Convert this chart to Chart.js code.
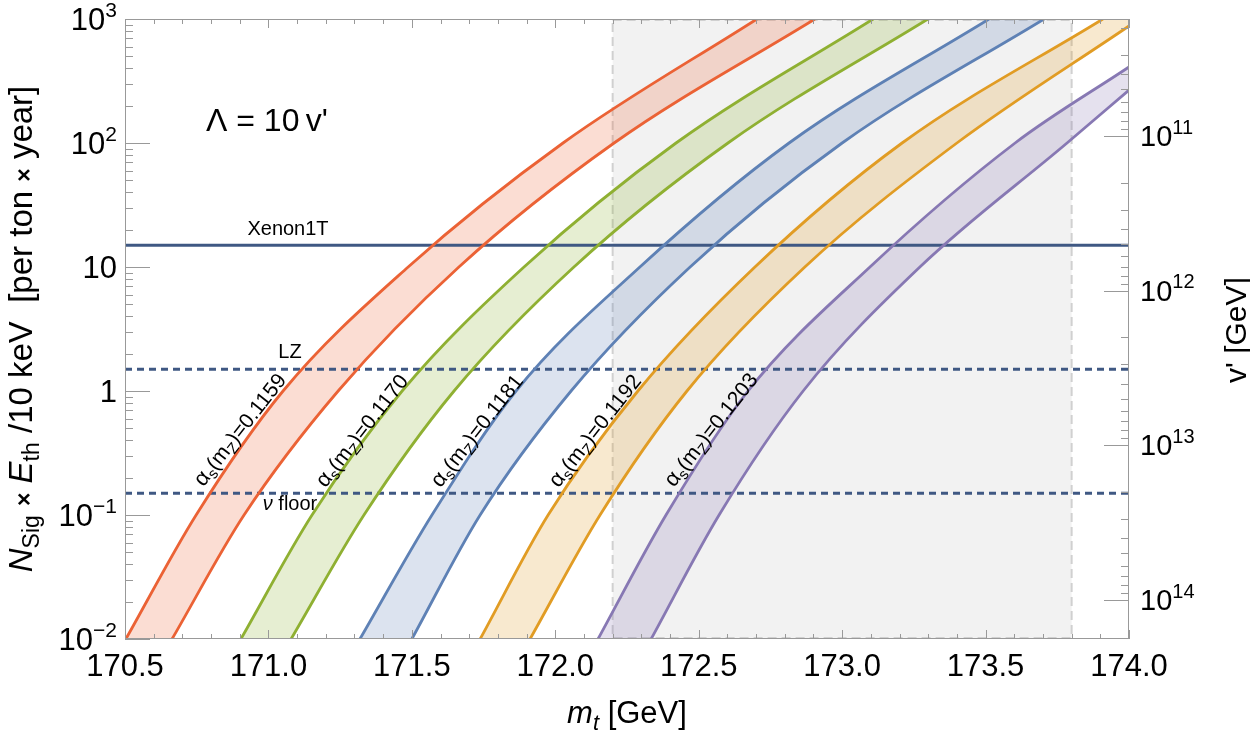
<!DOCTYPE html>
<html>
<head>
<meta charset="utf-8">
<script src="https://cdn.jsdelivr.net/npm/chart.js@4.4.1/dist/chart.umd.min.js"></script>
<style>
  html, body { margin: 0; padding: 0; background: #fff; }
  canvas { display: block; }
</style>
</head>
<body>
<canvas id="chart" width="1250" height="734"></canvas>
<script>
// signal levels where the curves were read (per ton x year)
const decadeN = [0.01, 0.1, 1, 10, 100, 1000];

// m_t [GeV] of the upper / lower edge of each band at the levels above
const mt1159Upper = [170.503, 170.748, 171.051, 171.487, 172.027, 172.703];
const mt1159Lower = [170.664, 170.915, 171.243, 171.664, 172.205, 172.905];
const mt1170Upper = [170.904, 171.152, 171.466, 171.891, 172.421, 173.108];
const mt1170Lower = [171.079, 171.333, 171.647, 172.065, 172.602, 173.299];
const mt1181Upper = [171.319, 171.570, 171.863, 172.295, 172.815, 173.512];
const mt1181Lower = [171.500, 171.738, 172.055, 172.470, 173.000, 173.704];
const mt1192Upper = [171.738, 171.975, 172.288, 172.696, 173.209, 173.909];
const mt1192Lower = [171.912, 172.156, 172.459, 172.870, 173.400, 174.000];
const mt1203Upper = [172.149, 172.386, 172.672, 173.097, 173.603, 174.000];
const mt1203Lower = [172.334, 172.571, 172.864, 173.271, 173.784, 174.000];
// last points of these edges sit on the right frame, below the top
const n1192Lower = [0.01, 0.1, 1, 10, 100, 879];
const n1203Upper = [0.01, 0.1, 1, 10, 100, 410];
const n1203Lower = [0.01, 0.1, 1, 10, 100, 267];

const alphaValues = ['0.1159', '0.1170', '0.1181', '0.1192', '0.1203'];
const bandColors = ['#EB6235', '#8FB032', '#5E81B5', '#E19C24', '#8778B3'];

// experimental reach
const xenon1T = 15;
const lzReach = 1.5;
const nuFloor = 0.15;

// grey m_t window
const mtWindow = [172.2, 173.8];

// axes
const xMin = 170.5, xMax = 174.0;
const yMin = 0.01, yMax = 1000;
const vMin = Math.pow(10, 10.244), vMax = Math.pow(10, 14.252);
const xTicks = [170.5, 171.0, 171.5, 172.0, 172.5, 173.0, 173.5, 174.0];
const xTickLabels = ['170.5', '171.0', '171.5', '172.0', '172.5', '173.0', '173.5', '174.0'];
const yTickExps = [-2, -1, 0, 1, 2, 3];
const vTickExps = [11, 12, 13, 14];

const F = '"Liberation Sans", Arial, sans-serif';
const lineBlue = '#3F5883';

function rgba(hex, a) {
    const n = parseInt(hex.slice(1), 16);
    return `rgba(${n >> 16}, ${(n >> 8) & 255}, ${n & 255}, ${a})`;
}

function pts(xs, ys) {
    return xs.map((x, i) => ({x: x, y: ys[i]}));
}

const edges = [
    [pts(mt1159Upper, decadeN), pts(mt1159Lower, decadeN)],
    [pts(mt1170Upper, decadeN), pts(mt1170Lower, decadeN)],
    [pts(mt1181Upper, decadeN), pts(mt1181Lower, decadeN)],
    [pts(mt1192Upper, decadeN), pts(mt1192Lower, n1192Lower)],
    [pts(mt1203Upper, n1203Upper), pts(mt1203Lower, n1203Lower)]
];

const datasets = [];
edges.forEach((pair, k) => {
    pair.forEach(data => {
        datasets.push({
            data: data,
            borderColor: bandColors[k],
            borderWidth: 2.8,
            pointRadius: 0,
            fill: false,
            cubicInterpolationMode: 'monotone',
            clip: 0
        });
    });
});
[[xenon1T, []], [lzReach, [7, 5]], [nuFloor, [7, 5]]].forEach(([v, dash]) => {
    datasets.push({
        data: [{x: xMin, y: v}, {x: xMax, y: v}],
        borderColor: lineBlue,
        borderWidth: 3,
        borderDash: dash,
        pointRadius: 0,
        fill: false,
        clip: 0
    });
});

// rich text: list of [text, font, dy]
function richWidth(ctx, parts) {
    let w = 0;
    parts.forEach(p => { ctx.font = p[1]; w += ctx.measureText(p[0]).width; });
    return w;
}
function drawRich(ctx, parts, x, y, align) {
    const w = richWidth(ctx, parts);
    let cx = align === 'center' ? x - w / 2 : align === 'right' ? x - w : x;
    ctx.textAlign = 'left';
    ctx.textBaseline = 'alphabetic';
    parts.forEach(p => {
        ctx.font = p[1];
        ctx.fillText(p[0], cx, y + (p[2] || 0));
        cx += ctx.measureText(p[0]).width;
    });
}
function powerParts(e, size, supSize) {
    if (e === 0) return [['1', `${size}px ${F}`]];
    if (e === 1) return [['10', `${size}px ${F}`]];
    const s = e < 0 ? '\u2212' + (-e) : String(e);
    return [['10', `${size}px ${F}`], [s, `${supSize}px ${F}`, -size * 0.42]];
}

const backPlugin = {
    id: 'back',
    beforeDatasetsDraw(chart) {
        const {ctx, chartArea: a, scales: {x}} = chart;
        ctx.save();
        ctx.beginPath();
        ctx.rect(a.left, a.top, a.right - a.left, a.bottom - a.top);
        ctx.clip();
        const g0 = x.getPixelForValue(mtWindow[0]), g1 = x.getPixelForValue(mtWindow[1]);
        ctx.fillStyle = '#F2F2F2';
        ctx.fillRect(g0, a.top, g1 - g0, a.bottom - a.top);
        ctx.setLineDash([9, 5]);
        ctx.strokeStyle = '#D0D0D0';
        ctx.lineWidth = 2;
        ctx.strokeRect(g0, a.top + 1, g1 - g0, a.bottom - a.top - 2);
        ctx.setLineDash([]);

        // shaded bands between the two edges of each alpha_s
        for (let k = 0; k < edges.length; k++) {
            const up = chart.getDatasetMeta(2 * k).dataset;
            const lo = chart.getDatasetMeta(2 * k + 1).dataset;
            up.updateControlPoints(a, 'x');
            lo.updateControlPoints(a, 'x');
            ctx.beginPath();
            up.segments.forEach(s => up.pathSegment(ctx, s, {move: true}));
            ctx.lineTo(a.right, a.top);
            lo.segments.forEach(s => lo.pathSegment(ctx, s, {move: false, reverse: true}));
            ctx.closePath();
            ctx.fillStyle = rgba(bandColors[k], 0.22);
            ctx.fill();
        }
        ctx.restore();
    },
    afterDraw(chart) {
        const {ctx, chartArea: a, scales: {x, y, y2}} = chart;
        ctx.save();
        ctx.strokeStyle = '#999999';
        ctx.lineWidth = 1;
        ctx.strokeRect(a.left + 0.5, a.top + 0.5, a.right - a.left - 1, a.bottom - a.top - 1);

        function tick(x0, y0, x1, y1) {
            ctx.beginPath();
            ctx.moveTo(x0, y0);
            ctx.lineTo(x1, y1);
            ctx.stroke();
        }
        // x ticks, bottom and top
        for (let i = 0; i <= 35; i++) {
            const px = Math.round(x.getPixelForValue(xMin + i * 0.1)) + 0.5;
            const len = i % 5 === 0 ? 9 : 5;
            tick(px, a.bottom, px, a.bottom - len);
            tick(px, a.top, px, a.top + len);
        }
        // left log ticks
        for (let e = -2; e <= 3; e++) {
            for (let m = 1; m <= 9; m++) {
                const v = m * Math.pow(10, e);
                if (v > yMax * 1.0001) break;
                const py = Math.round(y.getPixelForValue(v)) + 0.5;
                tick(a.left, py, a.left + (m === 1 ? 25 : 8), py);
            }
        }
        // right v' ticks
        for (let e = 10; e <= 14; e++) {
            for (let m = 1; m <= 9; m++) {
                const v = m * Math.pow(10, e);
                if (v < vMin || v > vMax) continue;
                const py = Math.round(y2.getPixelForValue(v)) + 0.5;
                tick(a.right, py, a.right - (m === 1 ? 25 : 8), py);
            }
        }

        ctx.fillStyle = '#000';
        // tick labels
        xTicks.forEach((v, i) => {
            drawRich(ctx, [[xTickLabels[i], `31px ${F}`]], x.getPixelForValue(v), a.bottom + 37, 'center');
        });
        yTickExps.forEach(e => {
            drawRich(ctx, powerParts(e, 31, 21), a.left - 8, y.getPixelForValue(Math.pow(10, e)) + 11, 'right');
        });
        vTickExps.forEach(e => {
            drawRich(ctx, powerParts(e, 29, 20), a.right + 11, y2.getPixelForValue(Math.pow(10, e)) + 10, 'left');
        });

        // axis titles
        drawRich(ctx, [['m', `italic 31px ${F}`], ['t', `italic 22px ${F}`, 7], [' [GeV]', `31px ${F}`]], 627, 723, 'center');

        ctx.save();
        ctx.translate(32, 329);
        ctx.rotate(-Math.PI / 2);
        drawRich(ctx, [
            ['N', `italic 33px ${F}`], ['Sig', `23px ${F}`, 7], [' ', `33px ${F}`], ['\u00d7', `bold 23px ${F}`], [' ', `33px ${F}`],
            ['E', `italic 33px ${F}`], ['th', `23px ${F}`, 7], [' /10 keV  [per ton ', `33px ${F}`],
            ['\u00d7', `bold 23px ${F}`], [' year]', `33px ${F}`]
        ], 0, 0, 'center');
        ctx.restore();

        ctx.save();
        ctx.translate(1246, 330);
        ctx.rotate(-Math.PI / 2);
        drawRich(ctx, [["v' [GeV]", `30px ${F}`]], 0, 0, 'center');
        ctx.restore();

        // annotations
        drawRich(ctx, [['\u039b = 10\u2009v\'', `32px ${F}`]], 206, 131, 'left');
        drawRich(ctx, [['Xenon1T', `20px ${F}`]], 288, 235, 'center');
        drawRich(ctx, [['LZ', `20px ${F}`]], 290, 358, 'center');
        drawRich(ctx, [['\u03bd', `italic 20px ${F}`], [' floor', `20px ${F}`]], 290, 510, 'center');

        const labelPos = [[239, 429], [361, 430], [476, 430], [594, 430], [710, 429]];
        alphaValues.forEach((val, k) => {
            ctx.save();
            ctx.translate(labelPos[k][0], labelPos[k][1]);
            ctx.rotate(-52 * Math.PI / 180);
            drawRich(ctx, [
                ['\u03b1', `22px ${F}`], ['s', `15px ${F}`, 4], ['(m', `21px ${F}`], ['Z', `15px ${F}`, 4],
                [')=' + val, `21px ${F}`]
            ], 0, 8, 'center');
            ctx.restore();
        });
        ctx.restore();
    }
};

new Chart(document.getElementById('chart'), {
    type: 'line',
    data: {datasets: datasets},
    options: {
        responsive: false,
        animation: false,
        devicePixelRatio: 1,
        layout: {padding: {left: 125, right: 121, top: 19, bottom: 95}},
        plugins: {legend: {display: false}, tooltip: {enabled: false}},
        scales: {
            x: {type: 'linear', min: xMin, max: xMax, display: false},
            y: {type: 'logarithmic', min: yMin, max: yMax, display: false},
            y2: {type: 'logarithmic', min: vMin, max: vMax, reverse: true, display: false, position: 'right'}
        }
    },
    plugins: [backPlugin]
});
</script>
</body>
</html>
